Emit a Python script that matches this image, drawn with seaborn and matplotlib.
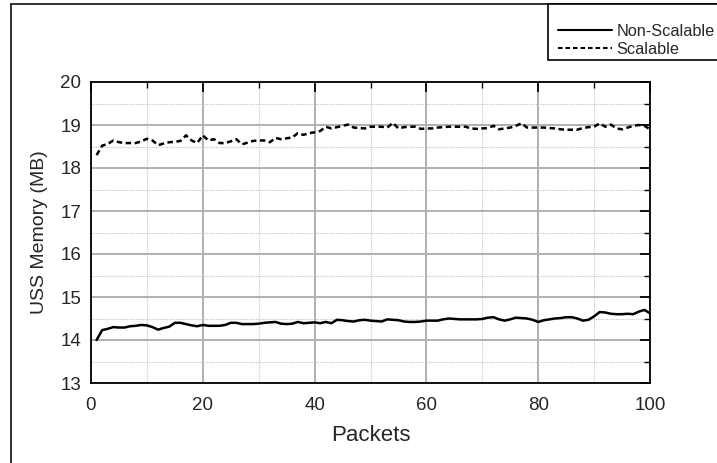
import numpy as np
import pandas as pd
import matplotlib
matplotlib.use("Agg")
import matplotlib.pyplot as plt
from matplotlib.lines import Line2D
from matplotlib.patches import Rectangle
from matplotlib.ticker import MultipleLocator
import seaborn as sns

packets = list(range(1, 101))
non_scalable = [
    14.00, 14.23, 14.26, 14.30, 14.29, 14.29, 14.32, 14.33, 14.35, 14.34,
    14.30, 14.24, 14.28, 14.31, 14.40, 14.40, 14.37, 14.34, 14.32, 14.35,
    14.33, 14.33, 14.33, 14.35, 14.40, 14.40, 14.37, 14.37, 14.37, 14.38,
    14.40, 14.41, 14.42, 14.38, 14.37, 14.38, 14.42, 14.39, 14.40, 14.41,
    14.39, 14.42, 14.39, 14.47, 14.46, 14.44, 14.43, 14.46, 14.47, 14.45,
    14.44, 14.43, 14.48, 14.47, 14.46, 14.43, 14.42, 14.42, 14.43, 14.45,
    14.45, 14.45, 14.48, 14.50, 14.49, 14.48, 14.48, 14.48, 14.48, 14.49,
    14.52, 14.53, 14.48, 14.45, 14.48, 14.52, 14.51, 14.50, 14.47, 14.42,
    14.46, 14.48, 14.50, 14.51, 14.53, 14.53, 14.50, 14.45, 14.47, 14.55,
    14.65, 14.64, 14.61, 14.60, 14.60, 14.61, 14.60, 14.66, 14.70, 14.62,
]
scalable = [
    18.30, 18.52, 18.56, 18.64, 18.60, 18.58, 18.58, 18.58, 18.62, 18.68,
    18.64, 18.53, 18.57, 18.60, 18.61, 18.63, 18.76, 18.64, 18.58, 18.76,
    18.64, 18.67, 18.58, 18.58, 18.62, 18.67, 18.55, 18.59, 18.63, 18.64,
    18.64, 18.60, 18.70, 18.67, 18.69, 18.71, 18.81, 18.77, 18.81, 18.83,
    18.86, 18.96, 18.92, 18.95, 18.98, 19.01, 18.94, 18.93, 18.92, 18.96,
    18.96, 18.96, 18.94, 19.05, 18.92, 18.95, 18.96, 18.96, 18.91, 18.92,
    18.92, 18.94, 18.95, 18.96, 18.96, 18.96, 18.96, 18.92, 18.91, 18.92,
    18.93, 18.98, 18.90, 18.92, 18.94, 18.98, 19.04, 18.94, 18.94, 18.94,
    18.94, 18.93, 18.92, 18.90, 18.89, 18.89, 18.89, 18.93, 18.95, 18.96,
    19.04, 18.96, 19.01, 18.92, 18.90, 18.94, 18.98, 19.00, 18.98, 18.90,
]
series_names = ["Non-Scalable", "Scalable"]

sns.set_theme(style="white")
plt.rcParams["font.family"] = ["Liberation Sans", "DejaVu Sans"]

df = pd.DataFrame({
    "Packets": packets * 2,
    "Memory": non_scalable + scalable,
    "Series": [series_names[0]] * len(packets) + [series_names[1]] * len(packets),
})

fig = plt.figure(figsize=(7.17, 4.63), dpi=100)
ax = fig.add_axes([91 / 717, 80 / 463, 559 / 717, 301 / 463])

sns.lineplot(data=df, x="Packets", y="Memory", style="Series",
             dashes={series_names[0]: "", series_names[1]: (2.2, 1.4)},
             color="black", linewidth=1.8, ax=ax, legend=False)

ax.set_xlim(0, 100)
ax.set_ylim(13, 20)
ax.xaxis.set_major_locator(MultipleLocator(20))
ax.xaxis.set_minor_locator(MultipleLocator(10))
ax.yaxis.set_major_locator(MultipleLocator(1))
ax.yaxis.set_minor_locator(MultipleLocator(0.5))
ax.grid(which="major", color="#b0b0b0", linewidth=1.4, linestyle="-")
ax.grid(which="minor", color="#c4c4c4", linewidth=0.8, linestyle=(0, (1, 1)))
ax.set_axisbelow(True)
ax.tick_params(which="both", direction="in", top=True, right=True, color="black",
               labelsize=13.5)
ax.tick_params(axis="x", which="both", pad=10)
ax.tick_params(axis="y", which="both", pad=7)
ax.tick_params(which="major", length=7, width=1.3)
ax.tick_params(which="minor", length=4, width=1.0)
for s in ax.spines.values():
    s.set_color("black")
    s.set_linewidth(1.3)
ax.set_xlabel("Packets", fontsize=16, labelpad=8)
ax.set_ylabel("USS Memory (MB)", fontsize=14, labelpad=9)

# legend box (its right side runs past the figure edge, as in the reference)
fig.add_artist(Rectangle((548 / 717, 1 - 60 / 463), 200 / 717, 56 / 463,
                         transform=fig.transFigure, facecolor="white",
                         edgecolor="black", linewidth=1.2, zorder=4))
handles = [Line2D([], [], color="black", linewidth=1.5, linestyle="-"),
           Line2D([], [], color="black", linewidth=1.5, linestyle=(0, (2.2, 1.4)))]
leg = fig.legend(handles, series_names, loc="lower left",
                 bbox_to_anchor=(558 / 717, 1 - 57 / 463), fontsize=11.7,
                 frameon=False, handlelength=3.3, handletextpad=0.3,
                 borderpad=0, labelspacing=0.2, borderaxespad=0)
leg.set_zorder(5)

fig.add_artist(Line2D([11 / 717, 11 / 717], [0, 1 - 4 / 463], transform=fig.transFigure,
                      color="#222222", linewidth=1.3))
fig.add_artist(Line2D([11 / 717, 1], [1 - 4 / 463, 1 - 4 / 463], transform=fig.transFigure,
                      color="#222222", linewidth=1.3))

fig.savefig("out.png", dpi=100)
